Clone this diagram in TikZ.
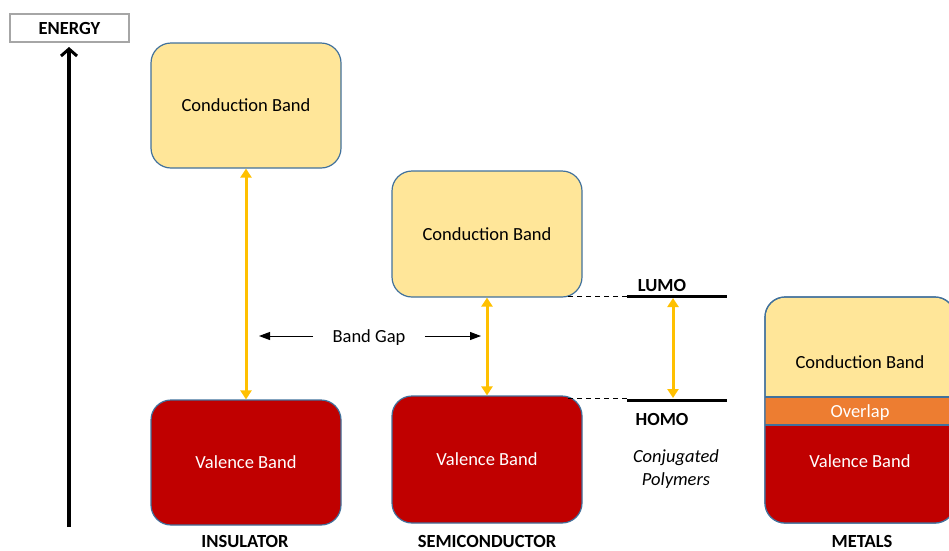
\documentclass[tikz,border=0pt]{standalone}
\usepackage{fontspec}
\setmainfont{Carlito}
\usetikzlibrary{arrows.meta}
\definecolor{cbY}{HTML}{FFE699}
\definecolor{vbR}{HTML}{C00000}
\definecolor{ovO}{HTML}{ED7D31}
\definecolor{arO}{HTML}{FFC000}
\definecolor{bdB}{HTML}{41719C}
\definecolor{enG}{HTML}{A6A6A6}
\tikzset{
  every node/.style={font=\fontsize{18.5}{22}\selectfont, text height=12pt, text depth=0pt},
  bandbox/.style={draw=bdB, line width=1.2pt, rounded corners=20pt, minimum width=190pt, inner sep=0pt},
  condbox/.style={bandbox, fill=cbY, text=black},
  valbox/.style={bandbox, fill=vbR, text=white},
  gaparrow/.style={draw=arO, line width=3pt, {Triangle[width=11pt,length=9pt]}-{Triangle[width=11pt,length=9pt]}},
  levelline/.style={line width=3pt, black},
  dashline/.style={line width=1pt, dash pattern=on 5pt off 4pt},
  caption/.style={font=\bfseries\fontsize{18.5}{22}\selectfont, inner sep=1pt},
  bgarrow/.style={line width=1pt, -{Triangle[width=8pt,length=11pt]}},
}
\begin{document}
\begin{tikzpicture}[x=1pt,y=-1pt]
\useasboundingbox (0,0) rectangle (949,550);
% Energy axis
\node[draw=enG, line width=1.5pt, minimum width=119pt, minimum height=28pt, inner sep=0pt, font=\bfseries\fontsize{18.5}{22}\selectfont] (energy) at (69.5,28) {ENERGY};
\coordinate (axbot) at (69,527);
\draw[line width=3.5pt, -{Straight Barb[length=7pt,width=16pt,line width=3pt]}] (axbot) -- (69,47);
% Insulator
\node[condbox, minimum height=125pt] (icb) at (246,105.5) {Conduction Band};
\node[valbox, minimum height=125pt] (ivb) at (246,462.5) {Valence Band};
\draw[gaparrow] (icb.south) -- (ivb.north);
\node[caption] (ins) at (245,541) {INSULATOR};
% Semiconductor
\node[condbox, minimum height=126pt] (scb) at (487,234) {Conduction Band};
\node[valbox, minimum height=127pt] (svb) at (487,459.5) {Valence Band};
\draw[gaparrow] (scb.south) -- (svb.north);
\node[caption] (semi) at (487,541) {SEMICONDUCTOR};
% Band gap label
\node (bg) at (369,336) {Band Gap};
\coordinate (bgL) at (259,336);
\coordinate (bgR) at (481,336);
\draw[bgarrow] ([xshift=-16pt]bg.west) -- (bgL);
\draw[bgarrow] ([xshift=16pt]bg.east) -- (bgR);
% Conjugated polymers
\coordinate (lumoL) at (627,296);
\coordinate (lumoR) at (727,296);
\coordinate (homoL) at (627,400);
\coordinate (homoR) at (727,400);
\coordinate (homoD) at (627,398);
\draw[levelline] (lumoL) -- (lumoR);
\draw[levelline] (homoL) -- (homoR);
\draw[dashline] (lumoL) -- ([xshift=-15pt]lumoL -| scb.east);
\draw[dashline] (homoD) -- ([xshift=-15pt]homoD -| svb.east);
\node[caption] (lumo) at (662,285) {LUMO};
\node[caption] (homo) at (662,419) {HOMO};
\coordinate (pa) at (673,298);
\coordinate (pb) at (673,398);
\draw[gaparrow] (pa) -- (pb);
\node[font=\itshape\fontsize{18.5}{22}\selectfont] (conj1) at (676,456) {Conjugated};
\node[font=\itshape\fontsize{18.5}{22}\selectfont] (conj2) at (676,479) {Polymers};
% Metals
\node[bandbox, fill=cbY, minimum height=226pt] (metal) at (860,410) {};
\begin{scope}
\clip[rounded corners=20pt] (765,297) rectangle (955,523);
\fill[vbR] (765,425) rectangle (955,523);
\fill[ovO] (765,397) rectangle (955,425);
\draw[bdB, line width=1.2pt] (765,397) -- (955,397);
\draw[bdB, line width=1.2pt] (765,425) -- (955,425);
\end{scope}
\draw[bdB, line width=1.2pt, rounded corners=20pt] (765,297) rectangle (955,523);
\node (mcb) at (860,362) {Conduction Band};
\node[text=white] (mov) at (860,411) {Overlap};
\node[text=white] (mvb) at (860,461) {Valence Band};
\node[caption] (met) at (862,541) {METALS};
\end{tikzpicture}
\end{document}
